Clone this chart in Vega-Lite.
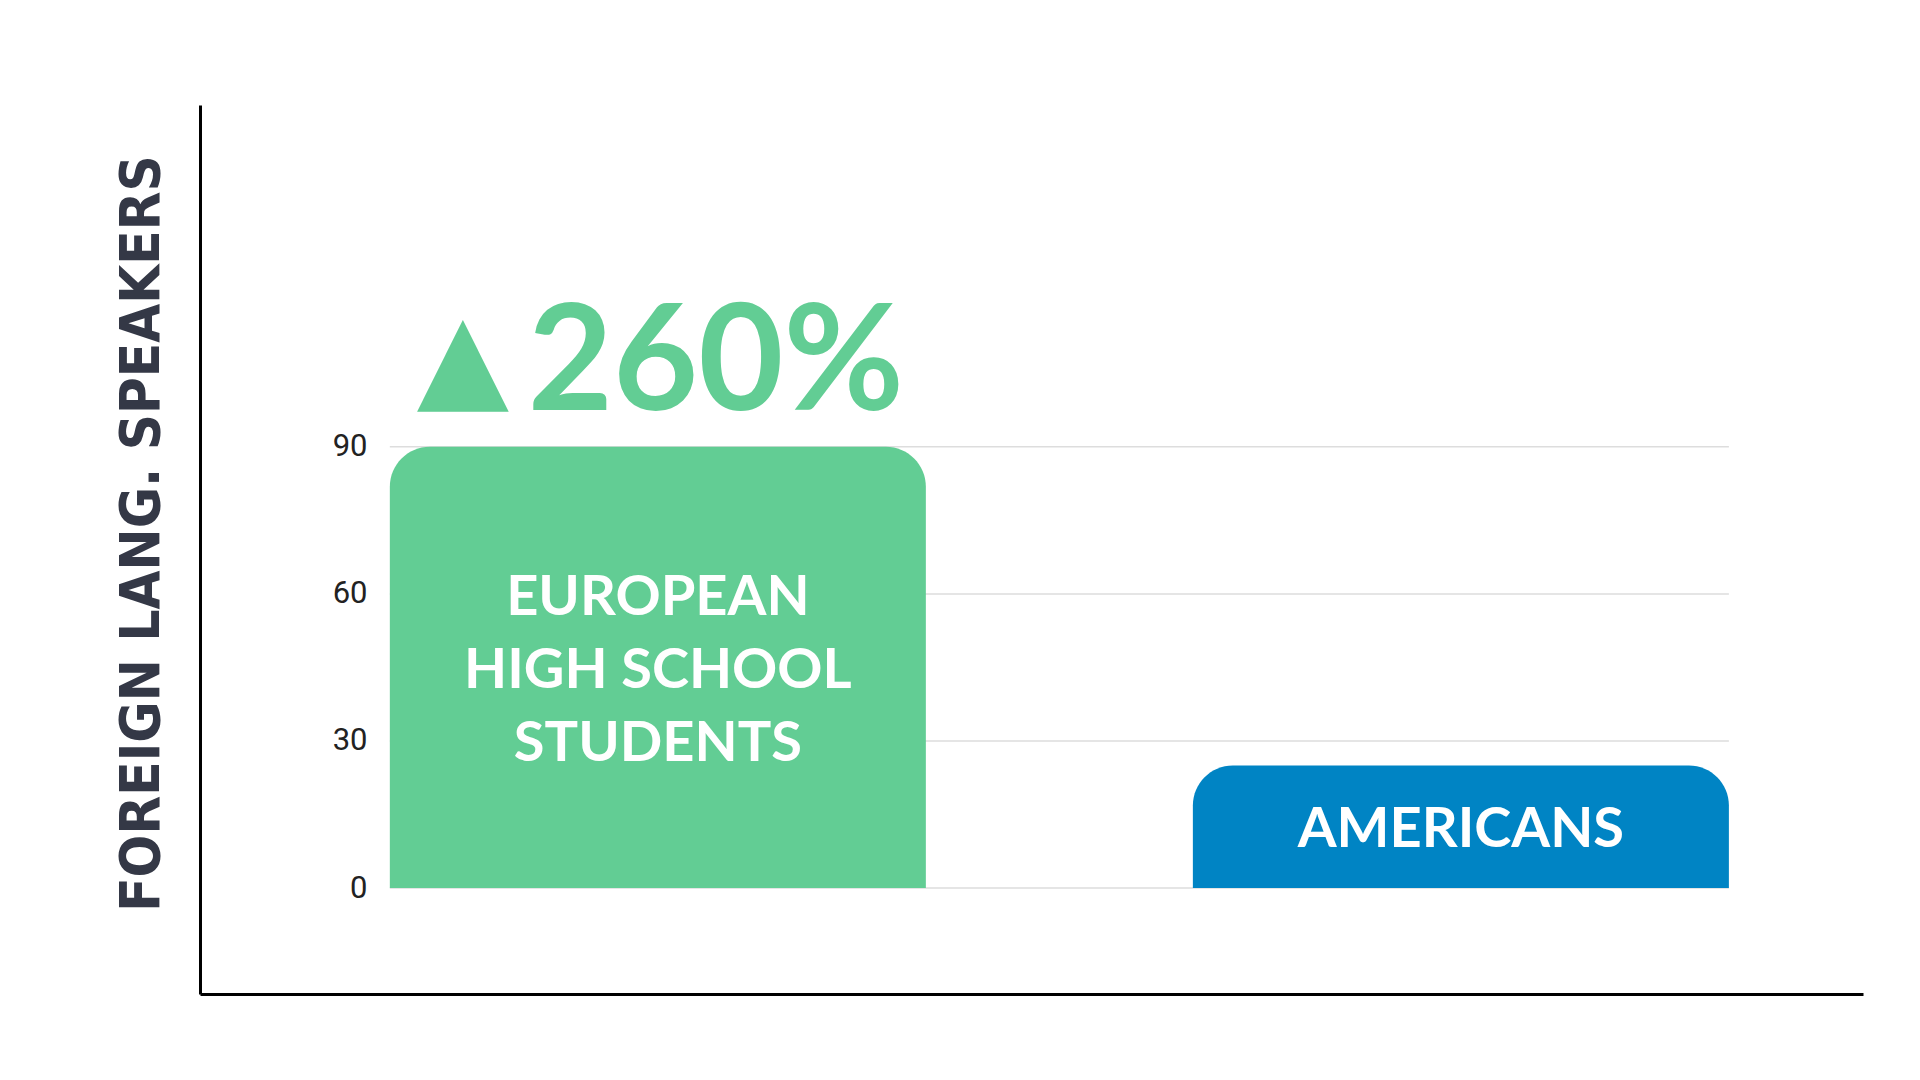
{
  "$schema": "https://vega.github.io/schema/vega-lite/v6.json",
  "description": "Foreign language speakers: European high school students vs Americans.",
  "width": 1663,
  "height": 889,
  "autosize": {"type": "none"},
  "padding": {"left": 200, "top": 105, "right": 57, "bottom": 86},
  "background": "white",
  "config": {"view": {"stroke": null}},
  "datasets": {
    "groups": [
      {"group": "European high school students", "label": "EUROPEAN\nHIGH SCHOOL\nSTUDENTS", "speakers": 90, "increase": "260%"},
      {"group": "Americans", "label": "AMERICANS", "speakers": 25, "increase": ""}
    ],
    "ticks": [{"tick": 0}, {"tick": 30}, {"tick": 60}, {"tick": 90}]
  },
  "resolve": {"scale": {"y": "independent"}},
  "layer": [
    {
      "layer": [
        {
          "data": {"name": "ticks"},
          "mark": {"type": "rule", "color": "#dddddd", "strokeWidth": 1.5},
          "encoding": {
            "x": {"datum": "European high school students", "type": "nominal", "bandPosition": 0},
            "x2": {"datum": "Americans", "bandPosition": 1},
            "y": {"field": "tick", "type": "quantitative"}
          }
        },
        {
          "data": {"name": "groups"},
          "mark": {"type": "bar", "cornerRadiusTopLeft": 40, "cornerRadiusTopRight": 40},
          "encoding": {
            "x": {
              "field": "group",
              "type": "nominal",
              "scale": {
                "domain": ["European high school students", "Americans"],
                "paddingInner": 0.3325,
                "paddingOuter": 0.2017,
                "align": 0.586
              },
              "axis": {
                "title": null,
                "labels": false,
                "ticks": false,
                "domainColor": "#000000",
                "domainWidth": 3
              }
            },
            "y": {
              "field": "speakers",
              "type": "quantitative",
              "scale": {"domain": [-21.6, 159.7], "nice": false, "zero": false},
              "axis": {
                "title": "FOREIGN LANG. SPEAKERS",
                "titleFont": "DejaVu Sans Condensed, Liberation Sans, sans-serif",
                "titleFontWeight": "bold",
                "titleFontSize": 56,
                "titleColor": "#343846",
                "titlePadding": 30,
                "titleY": 428,
                "values": [0, 30, 60, 90],
                "grid": false,
                "ticks": false,
                "tickSize": 0,
                "labelPadding": -167,
                "labelFont": "Roboto",
                "labelFontSize": 31,
                "labelColor": "#222222",
                "labelBaseline": "middle",
                "domainColor": "#000000",
                "domainWidth": 3
              }
            },
            "y2": {"datum": 0},
            "color": {
              "field": "group",
              "type": "nominal",
              "scale": {"domain": ["European high school students", "Americans"], "range": ["#62cd94", "#0084c4"]},
              "legend": null
            }
          }
        },
        {
          "data": {"name": "groups"},
          "transform": [{"filter": "datum.increase !== ''"}],
          "mark": {
            "type": "text",
            "text": "▲",
            "color": "#62cd94",
            "font": "DejaVu Sans",
            "fontSize": 120,
            "align": "left",
            "baseline": "alphabetic",
            "dx": 27,
            "dy": -50
          },
          "encoding": {
            "x": {"field": "group", "type": "nominal", "bandPosition": 0},
            "y": {"field": "speakers", "type": "quantitative"}
          }
        },
        {
          "data": {"name": "groups"},
          "transform": [{"filter": "datum.increase !== ''"}],
          "mark": {
            "type": "text",
            "color": "#62cd94",
            "font": "Lato",
            "fontWeight": "bold",
            "fontSize": 147,
            "align": "left",
            "baseline": "alphabetic",
            "dx": 138,
            "dy": -37
          },
          "encoding": {
            "x": {"field": "group", "type": "nominal", "bandPosition": 0},
            "y": {"field": "speakers", "type": "quantitative"},
            "text": {"field": "increase"}
          }
        }
      ]
    },
    {
      "encoding": {
        "x": {"field": "group", "type": "nominal"},
        "y": {
          "field": "speakers",
          "type": "quantitative",
          "scale": {"domain": [-43.2, 319.4], "nice": false, "zero": false},
          "axis": null
        },
        "text": {"field": "label"}
      },
      "layer": [
        {
          "data": {"name": "groups"},
          "transform": [{"filter": "datum.increase !== ''"}],
          "mark": {
            "type": "text",
            "color": "white",
            "font": "Lato",
            "fontWeight": "bold",
            "fontSize": 56,
            "lineBreak": "\n",
            "lineHeight": 73,
            "align": "center",
            "baseline": "middle",
            "dy": -69
          }
        },
        {
          "data": {"name": "groups"},
          "transform": [{"filter": "datum.increase === ''"}],
          "mark": {
            "type": "text",
            "color": "white",
            "font": "Lato",
            "fontWeight": "bold",
            "fontSize": 56,
            "align": "center",
            "baseline": "middle",
            "dy": 3
          }
        }
      ]
    }
  ]
}
